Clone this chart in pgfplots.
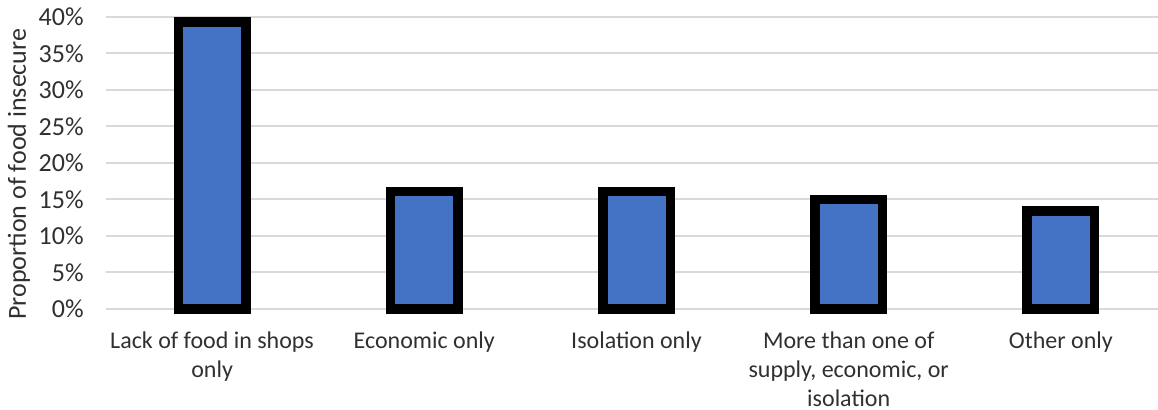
\documentclass[border=0pt]{standalone}
\usepackage{pgfplots}
\pgfplotsset{compat=1.18}
\usepackage{fontspec}
\setmainfont{Carlito}
\definecolor{barblue}{HTML}{4472C4}
\definecolor{gridgray}{HTML}{D9D9D9}
\definecolor{txt}{HTML}{303030}

\begin{document}
\begin{tikzpicture}
\begin{axis}[
  name=ax,
  scale only axis,
  width=530.5pt, height=146pt,
  xmin=-0.5, xmax=4.5,
  ymin=0, ymax=40,
  ytick={0,5,...,40},
  yticklabel={\pgfmathprintnumber{\tick}\%},
  /pgf/number format/assume math mode=true,
  xtick={0,1,2,3,4},
  xticklabels={{Lack of food in shops\\only},{Economic only},{Isolation only},{More than one of\\supply, economic, or\\isolation},{Other only}},
  axis line style={draw=none},
  major tick length=0pt,
  ymajorgrids,
  grid style={gridgray, line width=1pt},
  clip=false,
  yticklabel style={anchor=east, inner sep=0pt, xshift=-11pt, text=txt, font=\fontsize{13}{15}\selectfont},
  xticklabel style={anchor=north, inner sep=0pt, yshift=-11pt, align=center, text=txt, font=\fontsize{12}{14.6}\selectfont},
  ylabel={Proportion of food insecure},
  ylabel style={at={(axis description cs:-0.082,0.462)}, anchor=center, text=txt, font=\fontsize{13}{15}\selectfont},
]
\addplot[ybar, bar width=33.75pt, fill=barblue, draw=black, line width=4.75pt]
  coordinates {(0,39.3) (1,16.1) (2,16.1) (3,15.0) (4,13.4)};
\end{axis}
\pgfresetboundingbox
\path[use as bounding box] ([shift={(-53pt,-50.5pt)}]ax.south west) rectangle ([shift={(-4.5pt,8.5pt)}]ax.north east);
\end{tikzpicture}
\end{document}
